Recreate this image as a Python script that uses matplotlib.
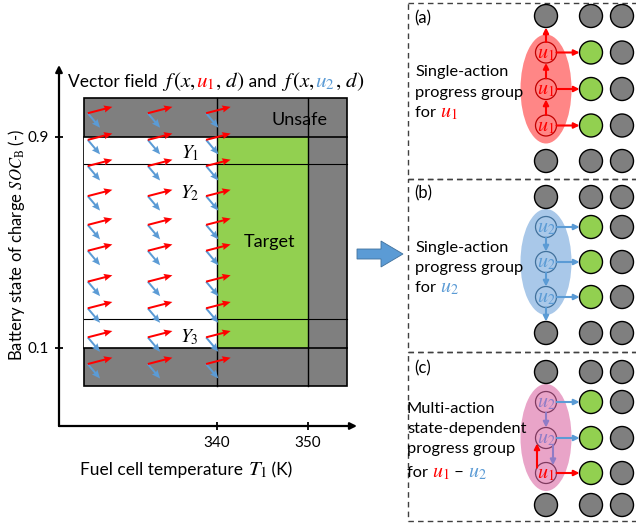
import matplotlib
matplotlib.use('Agg')
import numpy as np
import matplotlib.pyplot as plt
import matplotlib.transforms as mtransforms
from matplotlib.patches import Rectangle, Ellipse, Circle, FancyArrow

plt.rcParams['font.family'] = ['Lato', 'DejaVu Sans']
plt.rcParams['mathtext.fontset'] = 'stix'

RED = '#ff0000'
BLUE = '#5b9bd5'
PURPLE = '#8f7cc6'
GRAY = '#7f7f7f'
GREEN = '#92d050'

# ---- left panel: vector field over the state grid
T_cols = [325.8, 332.4, 338.8]
soc_rows = [0.989, 0.888, 0.789, 0.675, 0.566, 0.468, 0.351, 0.25, 0.14, 0.039]
f_u1 = (2.7, 0.024)     # vector for u1
f_u2 = (1.35, -0.055)   # vector for u2

T_range = (325.4, 354.3)
soc_range = (-0.044, 1.045)
target_T = (340, 350)
target_soc = (0.1, 0.9)
y_bounds = [0.9, 0.795, 0.208, 0.1]
region_labels = [('Unsafe', 349.1, 0.963), ('Target', 345.8, 0.5)]
y_sets = [('$Y_1$', 337.0, 0.838), ('$Y_2$', 337.0, 0.686), ('$Y_3$', 337.0, 0.14)]
xticks = [340, 350]
yticks = [0.1, 0.9]

# ---- right panels: progress groups (pixel layout)
panel_names = ['(a)', '(b)', '(c)']
panel_tops = [3, 179, 352]
panel_bottoms = [179, 352, 521]
node_cols = [546, 591, 622]
panel_rows = [[16, 52.5, 89, 125.5, 161],
              [197, 227, 262, 297, 333],
              [372, 402, 438, 473, 505]]
actions = [['u1', 'u1', 'u1'], ['u2', 'u2', 'u2'], ['u2', 'u2', 'u1']]
ellipse_colors = ['#ff8686', '#a9c8e9', '#e9a4c8']
ring_colors = ['#c00000', '#41719c', '#7f3b60']
# vertical transitions: (from row, to row, x offset, color)
transitions = [
    [(3, 2, 0, RED), (2, 1, 0, RED), (1, 0, 0, RED)],
    [(1, 2, 0, BLUE), (2, 3, 0, BLUE), (3, 4, 0, BLUE)],
    [(1, 2, 0, PURPLE), (2, 3, 7, PURPLE), (3, 2, -9, RED)],
]
panel_text = [
    [[('Single-action', 'k')], [('progress group', 'k')], [('for ', 'k'), ('$u_1$', RED)]],
    [[('Single-action', 'k')], [('progress group', 'k')], [('for ', 'k'), ('$u_2$', BLUE)]],
    [[('Multi-action', 'k')], [('state-dependent', 'k')], [('progress group', 'k')],
     [('for ', 'k'), ('$u_1$', RED), (' \u2212 ', 'k'), ('$u_2$', BLUE)]],
]
text_x = [415, 415, 407]
text_baselines = [[76, 97, 117], [252, 272, 292], [413, 433, 453, 477]]
label_baselines = [23, 198, 373]

fig = plt.figure(figsize=(6.36, 5.27), dpi=100)
ov = fig.add_axes([0, 0, 1, 1])
ov.set_xlim(0, 636)
ov.set_ylim(527, 0)
ov.axis('off')


def color_text(ax, x, y, parts, size, **kw):
    # math pieces are drawn a little larger so they match the text
    r = fig.canvas.get_renderer()
    tr = ax.transData
    for s, c in parts:
        fs = size * 1.22 if s.strip().startswith('$') else size
        t = ax.text(x, y, s, color=c, fontsize=fs, transform=tr, va='baseline', **kw)
        w = t.get_window_extent(renderer=r).width
        tr = mtransforms.offset_copy(tr, x=w, units='dots', fig=fig)


# left axes in pixel box
px0, px1, py0, py1 = 59, 357, 65, 426
ax = fig.add_axes([px0 / 636, 1 - py1 / 527, (px1 - px0) / 636, (py1 - py0) / 527])
ax.set_facecolor('none')
ax.set_xlim(340 + (px0 - 217) / 9.1, 340 + (px1 - 217) / 9.1)
ax.set_ylim(0.9 - (py1 - 136.7) / 264, 0.9 + (136.7 - py0) / 264)
for sp in ax.spines.values():
    sp.set_visible(False)
for xy in [(1, 0), (0, 1)]:
    ax.annotate('', xy=xy, xytext=(0, 0), xycoords='axes fraction',
                arrowprops=dict(arrowstyle='-|>', lw=1.6, color='k', mutation_scale=10,
                                shrinkA=0, shrinkB=0))
ax.set_xticks(xticks)
ax.set_yticks(yticks)
ax.set_yticklabels(['0.1', '0.9'])
ax.tick_params(direction='inout', length=6, width=1.3, labelsize=11, pad=4)

W = T_range[1] - T_range[0]
H = soc_range[1] - soc_range[0]
ax.add_patch(Rectangle((T_range[0], soc_range[0]), W, H, fc=GRAY, ec='k', lw=1.2, zorder=1))
ax.add_patch(Rectangle((T_range[0], target_soc[0]), target_T[0] - T_range[0],
                       target_soc[1] - target_soc[0], fc='white', ec='none', zorder=1.5))
ax.add_patch(Rectangle((target_T[0], target_soc[0]), target_T[1] - target_T[0],
                       target_soc[1] - target_soc[0], fc=GREEN, ec='none', zorder=1.5))
for yb in y_bounds:
    lw = 1.2 if yb in (0.9, 0.1) else 0.8
    ax.plot(T_range, [yb, yb], color='k', lw=lw, zorder=2)
for xb in target_T:
    ax.plot([xb, xb], soc_range, color='k', lw=1.0, zorder=2)
for s, x, y in region_labels:
    ax.text(x, y, s, fontsize=13, ha='center', va='center', zorder=3)
for s, x, y in y_sets:
    ax.text(x, y, s, fontsize=14, ha='center', va='center', zorder=3)

TT, SS = np.meshgrid(T_cols, soc_rows)
ax.quiver(TT, SS, np.full(TT.shape, f_u2[0]), np.full(TT.shape, f_u2[1]),
          angles='xy', scale_units='xy', scale=1, color=BLUE, units='dots',
          width=2.0, headwidth=3.6, headlength=4.2, headaxislength=3.8, zorder=4)
ax.quiver(TT, SS, np.full(TT.shape, f_u1[0]), np.full(TT.shape, f_u1[1]),
          angles='xy', scale_units='xy', scale=1, color=RED, units='dots',
          width=2.0, headwidth=3.6, headlength=4.2, headaxislength=3.8, zorder=5)

# labels for the left panel
color_text(ov, 68, 87, [('Vector field ', 'k'), (r'$f\,(x,\,$', 'k'), ('$u_1$', RED),
                        (r'$,\,d)$', 'k'), (' and ', 'k'), (r'$f\,(x,\,$', 'k'),
                        ('$u_2$', BLUE), (r'$,\,d)$', 'k')], 12.5)
color_text(ov, 80, 475, [('Fuel cell temperature ', 'k'), ('$T_1$', 'k'), (' (K)', 'k')], 12.5)
ov.text(17, 245, r'Battery state of charge $SOC_\mathrm{B}$ (-)', fontsize=12,
        rotation=90, ha='center', va='center')

# big arrow
ov.add_patch(FancyArrow(357, 254, 46, 0, width=10, head_width=26, head_length=22,
                        length_includes_head=True, fc=BLUE, ec='#41719c', lw=0.6))

# right panels
r_node, r_act = 11.5, 10.5
for p in range(3):
    top, bot = panel_tops[p], panel_bottoms[p]
    ov.add_patch(Rectangle((408, top), 240, bot - top, fill=False, ec='#404040',
                           lw=1.0, ls=(0, (4, 3)), clip_on=False))
    ov.text(414, label_baselines[p], panel_names[p], fontsize=12, va='baseline')
    for line, yb in zip(panel_text[p], text_baselines[p]):
        color_text(ov, text_x[p], yb, line, 11.8)

    rows = panel_rows[p]
    cx = node_cols[0]
    ymid = (rows[1] + rows[3]) / 2
    eh = rows[3] - rows[1] + 36
    ov.add_patch(Ellipse((cx, ymid), 51, eh, fc=ellipse_colors[p], ec='none', zorder=1))
    # gray / green nodes
    for ci, x in enumerate(node_cols):
        for ri, y in enumerate(rows):
            if ci == 0 and 1 <= ri <= 3:
                continue
            fc = GREEN if (ci == 1 and 1 <= ri <= 3) else GRAY
            ov.add_patch(Circle((x, y), r_node, fc=fc, ec='k', lw=1.0, zorder=2))
    # action nodes
    for k, a in enumerate(actions[p]):
        y = rows[k + 1]
        if a == 'u1':
            c_txt, c_arr = RED, RED
        else:
            c_txt = PURPLE if p == 2 else BLUE
            c_arr = BLUE
        ov.add_patch(Circle((cx, y), r_act, fill=False, ec=ring_colors[p], lw=0.9, zorder=3))
        ov.text(cx, y + 1.5, '$%s_%s$' % (a[0], a[1]), color=c_txt, fontsize=14.5,
                ha='center', va='center', zorder=4)
        ov.annotate('', xy=(node_cols[1] - r_node, y), xytext=(cx + r_act, y),
                    arrowprops=dict(arrowstyle='-|>', color=c_arr, lw=1.5,
                                    mutation_scale=8, shrinkA=0, shrinkB=0), zorder=4)
    for r0, r1, dx, c in transitions[p]:
        y0, y1 = rows[r0], rows[r1]
        x = cx + dx
        rad0 = r_node if r0 in (0, 4) else r_act
        rad1 = r_node if r1 in (0, 4) else r_act
        e0 = np.sqrt(max(rad0 ** 2 - dx ** 2, 0))
        e1 = np.sqrt(max(rad1 ** 2 - dx ** 2, 0))
        sgn = 1 if y1 > y0 else -1
        ov.annotate('', xy=(x, y1 - sgn * e1), xytext=(x, y0 + sgn * e0),
                    arrowprops=dict(arrowstyle='-|>', color=c, lw=1.5,
                                    mutation_scale=8, shrinkA=0, shrinkB=0), zorder=4)

fig.savefig('out.png', dpi=100)
